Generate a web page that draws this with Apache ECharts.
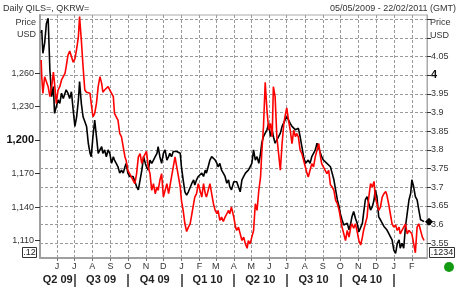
<!DOCTYPE html>
<html>
<head>
<meta charset="utf-8">
<script src="https://cdn.jsdelivr.net/npm/echarts@6/dist/echarts.min.js"></script>
<style>
html,body{margin:0;padding:0;background:#fff;}
#chart{width:458px;height:300px;}
</style>
</head>
<body>
<div id="chart"></div>
<script>
// ---- data ----
const startDate = '2009-05-05';
// sample positions, days since startDate
const dayOffsets = [
0,1,3,6,9,12,15,18,21,23,26,29,32,35,38,41,43,46,49,52,55,58,61,64,66,69,72,75,78,81,84,86,89,92,95,98,101,104,106,109,112,115,118,121,124,126,129,132,135,138,141,144,146,149,152,155,158,161,
164,167,170,173,176,179,181,184,187,190,193,196,199,201,204,207,210,213,216,219,221,224,227,230,233,236,239,241,244,247,250,253,256,259,262,264,267,270,273,276,279,282,284,287,290,293,296,299,302,304,307,310,313,316,319,322,324,327,
331,334,336,339,342,345,348,351,354,356,359,362,365,368,371,374,377,379,382,385,388,391,394,397,399,402,405,408,411,414,417,419,422,425,428,431,434,437,439,442,445,448,451,454,457,459,462,465,468,471,474,477,480,482,485,488,491,494,
497,500,503,506,509,512,514,517,520,523,526,529,532,534,537,540,543,546,549,552,554,557,560,563,566,569,572,574,577,580,583,586,589,592,594,597,600,603,606,609,612,615,617,620,623,626,629,632,635,637,640,643,646,649,652,655,658
];
// QILS= (black, right axis, USD price)
const ilsValues = [
4.113,4.121,4.059,4.086,4.139,4.153,4.014,3.943,3.970,3.898,3.916,3.934,3.925,3.952,3.938,3.952,3.961,3.952,3.938,3.956,3.907,3.863,3.889,3.934,3.983,3.925,3.889,3.876,3.863,3.818,3.791,3.782,3.836,3.880,3.836,3.791,3.800,3.809,3.791,3.800,3.782,3.800,3.791,3.764,3.782,3.773,3.764,3.755,3.738,3.746,3.738,3.755,3.764,3.738,3.729,3.733,3.729,3.724,
3.702,3.693,3.688,3.746,3.782,3.764,3.755,3.746,3.773,3.764,3.773,3.782,3.791,3.809,3.782,3.764,3.791,3.800,3.773,3.782,3.791,3.782,3.796,3.800,3.796,3.791,3.791,3.755,3.720,3.688,3.679,3.688,3.693,3.711,3.720,3.706,3.720,3.729,3.724,3.738,3.729,3.746,3.738,3.755,3.773,3.782,3.782,3.773,3.764,3.755,3.764,3.746,3.738,3.729,3.711,3.720,3.702,3.693,
3.715,3.711,3.715,3.711,3.688,3.720,3.729,3.738,3.733,3.746,3.755,3.764,3.800,3.773,3.782,3.764,3.791,3.818,3.836,3.845,3.854,3.871,3.836,3.854,3.836,3.818,3.827,3.836,3.845,3.863,3.867,3.880,3.889,3.885,3.871,3.863,3.858,3.854,3.854,3.858,3.836,3.809,3.782,3.764,3.764,3.773,3.764,3.782,3.791,3.800,3.818,3.818,3.791,3.782,3.773,3.773,3.764,3.769,
3.755,3.738,3.720,3.693,3.666,3.648,3.630,3.613,3.599,3.595,3.604,3.586,3.604,3.621,3.635,3.617,3.604,3.581,3.586,3.604,3.630,3.666,3.675,3.657,3.639,3.648,3.666,3.693,3.675,3.621,3.613,3.604,3.595,3.599,3.586,3.577,3.568,3.559,3.532,3.523,3.550,3.559,3.537,3.550,3.537,3.595,3.630,3.666,3.684,3.720,3.702,3.675,3.666,3.639,3.613,3.617,3.608
];
// QKRW= (red, left axis)
const krwValues = [
1272,1257,1242,1257,1257,1248,1239,1248,1261,1251,1233,1245,1248,1254,1255,1260,1266,1276,1280,1275,1270,1273,1282,1293,1311,1290,1266,1245,1243,1242,1242,1233,1221,1224,1233,1248,1257,1251,1243,1245,1246,1248,1245,1242,1239,1224,1221,1218,1206,1203,1194,1185,1182,1173,1170,1167,1164,1161,
1170,1185,1188,1179,1185,1188,1190,1176,1170,1155,1161,1152,1158,1155,1164,1170,1149,1155,1161,1152,1158,1167,1176,1185,1176,1167,1158,1146,1137,1125,1118,1122,1125,1134,1143,1149,1152,1161,1155,1149,1161,1152,1149,1155,1161,1152,1143,1137,1134,1137,1128,1131,1127,1131,1134,1137,1134,1140,
1131,1122,1119,1122,1116,1110,1113,1107,1103,1110,1107,1113,1119,1143,1137,1155,1167,1188,1212,1252,1227,1209,1215,1203,1248,1239,1203,1188,1173,1197,1215,1221,1229,1218,1209,1197,1209,1203,1206,1203,1191,1188,1182,1176,1170,1167,1173,1179,1176,1185,1191,1197,1185,1179,1176,1173,1170,1173,
1160,1158,1155,1146,1143,1137,1131,1122,1116,1110,1119,1113,1122,1125,1121,1125,1118,1110,1106,1113,1119,1125,1131,1149,1161,1158,1163,1149,1143,1137,1140,1149,1152,1154,1151,1143,1134,1125,1122,1124,1119,1122,1116,1119,1122,1125,1116,1119,1118,1116,1116,1099,1122,1125,1119,1113,1110
];
const monthStarts = ['2009-06-01','2009-07-01','2009-08-01','2009-09-01','2009-10-01','2009-11-01','2009-12-01',
  '2010-01-01','2010-02-01','2010-03-01','2010-04-01','2010-05-01','2010-06-01','2010-07-01','2010-08-01','2010-09-01',
  '2010-10-01','2010-11-01','2010-12-01','2011-01-01','2011-02-01'];
const monthLabels = ['J','J','A','S','O','N','D','J','F','M','A','M','J','J','A','S','O','N','D','J','F'];
const quarterStarts = ['2009-07-01','2009-10-01','2010-01-01','2010-04-01','2010-07-01','2010-10-01','2011-01-01'];
const quarterLabels = ['Q2 09','Q3 09','Q4 09','Q1 10','Q2 10','Q3 10','Q4 10'];
const leftTicks = [1110,1140,1170,1200,1230,1260];
const rightGrid = [3.55,3.6,3.65,3.7,3.75,3.8,3.85,3.9,3.95,4,4.05,4.1,4.15];
const rightTicks = [3.55,3.6,3.65,3.7,3.75,3.8,3.85,3.9,3.95,4,4.05];

// ---- build ----
const START = Date.parse(startDate + 'T00:00:00Z');
const dayOf = s => Math.round((Date.parse(s + 'T00:00:00Z') - START) / 864e5);
const monthDays = monthStarts.map(dayOf);
const quarterDays = quarterStarts.map(dayOf);
const quarterMids = quarterDays.map((d, i) => ((i === 0 ? 0 : quarterDays[i - 1]) + d) / 2);
const X_MIN = -2, X_MAX = 663;
const nearestIdx = (arr, v) => { let b = 0; arr.forEach((a, i) => { if (Math.abs(a - v) < Math.abs(arr[b] - v)) b = i; }); return b; };
const FONT = '"Liberation Sans", Arial, sans-serif';
const fmtThousands = v => String(v).replace(/\B(?=(\d{3})+(?!\d))/g, ',');
const lastIls = ilsValues[ilsValues.length - 1];

const chart = echarts.init(document.getElementById('chart'), null, { renderer: 'canvas' });
const option = {
  animation: false,
  backgroundColor: '#ffffff',
  textStyle: { fontFamily: FONT },
  grid: { left: 40, right: 31, top: 15, bottom: 42, show: true, borderColor: '#aaaaaa', borderWidth: 1, backgroundColor: 'transparent' },
  xAxis: [
    {
      type: 'value', min: X_MIN, max: X_MAX, position: 'bottom',
      axisLine: { show: true, onZero: false, lineStyle: { color: '#a0a0a0', width: 2 } },
      axisTick: { show: true, customValues: monthDays, length: 3, lineStyle: { color: '#777' } },
      axisLabel: { customValues: monthDays, margin: 4, fontSize: 9, color: '#333', fontFamily: FONT,
        formatter: v => monthLabels[nearestIdx(monthDays, v)] },
      splitLine: { show: true, lineStyle: { color: '#9a9a9a', width: 1, type: [3, 2] } }
    },
    {
      type: 'value', min: X_MIN, max: X_MAX, position: 'bottom', offset: 16,
      axisLine: { show: false, onZero: false },
      axisTick: { show: true, customValues: quarterDays, length: 13, lineStyle: { color: '#333', width: 1.5 } },
      axisLabel: { customValues: quarterMids, margin: 0, fontSize: 11, fontWeight: 'bold', color: '#222', fontFamily: FONT,
        formatter: v => quarterLabels[nearestIdx(quarterMids, v)] },
      splitLine: { show: false }
    }
  ],
  yAxis: [
    {
      type: 'value', position: 'left', min: 1094.3, max: 1312.3,
      axisLine: { show: true, onZero: false, lineStyle: { color: '#a0a0a0', width: 2 } },
      axisTick: { show: true, customValues: leftTicks, length: 5, lineStyle: { color: '#333' } },
      axisLabel: { customValues: leftTicks, margin: 6, color: '#333',
        formatter: v => (Math.round(v) === 1200 ? '{b|' : '{n|') + fmtThousands(Math.round(v)) + '}',
        rich: { n: { fontSize: 9, color: '#333', fontFamily: FONT }, b: { fontSize: 11, fontWeight: 'bold', color: '#111', fontFamily: FONT } } },
      splitLine: { show: false }
    },
    {
      type: 'value', position: 'right', min: 3.5106, max: 4.1615,
      axisLine: { show: true, onZero: false, lineStyle: { color: '#aaaaaa', width: 1 } },
      axisTick: { show: true, customValues: rightGrid, length: 4, lineStyle: { color: '#333' } },
      axisLabel: { customValues: rightTicks, margin: 4, color: '#333',
        formatter: v => { const s = String(Math.round(v * 100) / 100); return (s === '4' ? '{b|' : '{n|') + s + '}'; },
        rich: { n: { fontSize: 9, color: '#333', fontFamily: FONT }, b: { fontSize: 11, fontWeight: 'bold', color: '#111', fontFamily: FONT } } },
      splitLine: { show: true, lineStyle: { color: '#9a9a9a', width: 1, type: [3, 2] } }
    }
  ],
  series: [
    {
      name: 'QILS=', type: 'line', xAxisIndex: 0, yAxisIndex: 1, showSymbol: false, z: 3,
      lineStyle: { color: '#000000', width: 1.6 },
      data: dayOffsets.map((d, i) => [d, ilsValues[i]]),
      markPoint: {
        symbol: 'diamond', symbolSize: [8, 8], symbolOffset: [2, 0],
        itemStyle: { color: '#000' }, label: { show: false },
        data: [{ coord: [X_MAX, lastIls] }]
      }
    },
    {
      name: 'QKRW=', type: 'line', xAxisIndex: 0, yAxisIndex: 0, showSymbol: false, z: 4,
      lineStyle: { color: '#ff0000', width: 1.6 },
      data: dayOffsets.map((d, i) => [d, krwValues[i]])
    }
  ],
  graphic: [
    { type: 'text', x: 3, y: 9, style: { text: 'Daily QILS=, QKRW=', font: '9px ' + FONT, fill: '#333', verticalAlign: 'middle', textVerticalAlign: 'middle' } },
    { type: 'text', x: 456, y: 9, style: { text: '05/05/2009 - 22/02/2011 (GMT)', font: '9px ' + FONT, fill: '#333', align: 'right', textAlign: 'right', verticalAlign: 'middle', textVerticalAlign: 'middle' } },
    { type: 'text', x: 36, y: 23, style: { text: 'Price', font: '9px ' + FONT, fill: '#333', align: 'right', textAlign: 'right', verticalAlign: 'middle', textVerticalAlign: 'middle' } },
    { type: 'text', x: 36, y: 35, style: { text: 'USD', font: '9px ' + FONT, fill: '#333', align: 'right', textAlign: 'right', verticalAlign: 'middle', textVerticalAlign: 'middle' } },
    { type: 'text', x: 430, y: 23, style: { text: 'Price', font: '9px ' + FONT, fill: '#333', verticalAlign: 'middle', textVerticalAlign: 'middle' } },
    { type: 'text', x: 430, y: 36, style: { text: 'USD', font: '9px ' + FONT, fill: '#333', verticalAlign: 'middle', textVerticalAlign: 'middle' } },
    { type: 'rect', shape: { x: 22.5, y: 247.5, width: 14, height: 10 }, style: { fill: '#fff', stroke: '#333', lineWidth: 1 } },
    { type: 'text', x: 29.5, y: 252.5, style: { text: '.12', font: '9px ' + FONT, fill: '#222', align: 'center', textAlign: 'center', verticalAlign: 'middle', textVerticalAlign: 'middle' } },
    { type: 'rect', shape: { x: 429.5, y: 247.5, width: 25, height: 10 }, style: { fill: '#fff', stroke: '#333', lineWidth: 1 } },
    { type: 'text', x: 442, y: 252.5, style: { text: '.1234', font: '9px ' + FONT, fill: '#222', align: 'center', textAlign: 'center', verticalAlign: 'middle', textVerticalAlign: 'middle' } },
    { type: 'circle', shape: { cx: 449, cy: 267, r: 5 }, style: { fill: '#139a13' } }
  ]
};
chart.setOption(option);
</script>
</body>
</html>
